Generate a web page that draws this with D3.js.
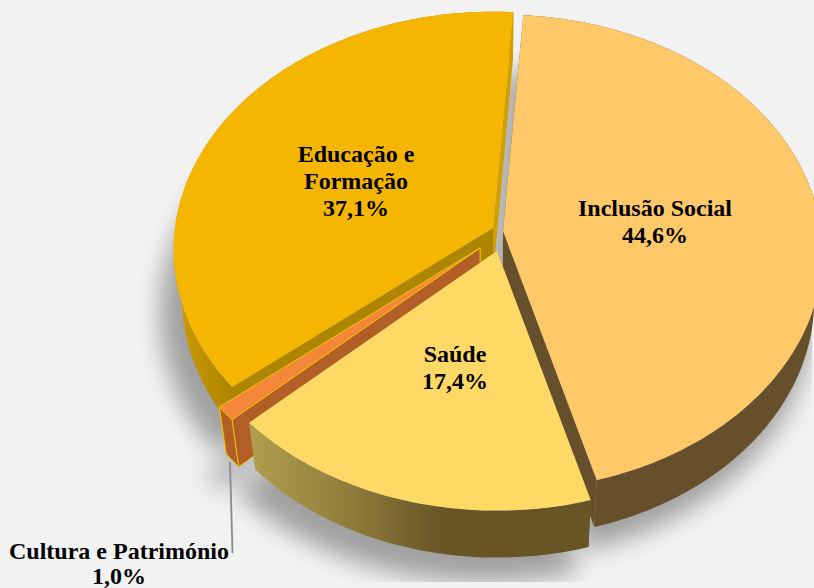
<!DOCTYPE html>
<html>
<head>
<meta charset="utf-8">
<script src="https://cdnjs.cloudflare.com/ajax/libs/d3/7.8.5/d3.min.js"></script>
<style>
  html, body { margin: 0; padding: 0; background: #f2f2f2; overflow: hidden; }
  text { font-family: "Liberation Serif", serif; font-weight: bold; fill: #000; }
</style>
</head>
<body>
<svg id="chart" width="814" height="588"></svg>
<script>
// chart data
const categories = ["Inclusão Social", "Saúde", "Cultura e Património", "Educação e Formação"];
const shares = [44.6, 17.4, 1.0, 37.1];
const labelLines = [
    ["Inclusão Social"],
    ["Saúde"],
    ["Cultura e Património"],
    ["Educação e", "Formação"]
];

const width = 814, height = 588;
const firstAngle = 4 * Math.PI / 180;

// fake 3d: ground plane seen in perspective
const radius = 318, tilt = 0.742, persp = 0.091;
const depth = 47, vanishX = 500, bottomScale = 0.975;

// apex of every slice (they are exploded by hand in the original)
const apex = {
    "Inclusão Social": [503, 231],
    "Saúde": [497, 251],
    "Cultura e Património": [480, 248],
    "Educação e Formação": [493, 228]
};
const labelAnchor = {
    "Inclusão Social": { x: 655, y: 216, step: 27 },
    "Saúde": { x: 455, y: 362, step: 27 },
    "Cultura e Património": { x: 119, y: 559, step: 25 },
    "Educação e Formação": { x: 356, y: 162, step: 27 }
};
const faces = {
    "Inclusão Social": { top: "#ffc969", outer: "#66502b", start: "#66502b", end: "#66502b" },
    "Saúde": { top: "#ffd966", outer: "url(#saudeWall)", start: "#665526", end: "#a8964a" },
    "Cultura e Património": { top: "#f5873b", outer: "#b15f26", start: "#b15f26", end: "#b15f26", edge: "#ecc000" },
    "Educação e Formação": { top: "#f4b600", outer: "url(#eduWall)", start: "#ae8500", end: "#d1a000", wallOrder: ["outer", "start", "end"] }
};
const defaultWallOrder = ["end", "outer", "start"];
const drawOrder = ["Educação e Formação", "Inclusão Social", "Cultura e Património", "Saúde"];

const svg = d3.select("#chart");
const defs = svg.append("defs");

defs.append("clipPath").attr("id", "shadowClip")
    .append("rect").attr("width", width).attr("height", 582);

defs.append("filter")
    .attr("id", "blur")
    .attr("filterUnits", "userSpaceOnUse")
    .attr("x", 0).attr("y", 0).attr("width", width).attr("height", height)
    .append("feGaussianBlur").attr("stdDeviation", 12);

function hgrad(id, x1, x2, stops) {
    const g = defs.append("linearGradient")
        .attr("id", id)
        .attr("gradientUnits", "userSpaceOnUse")
        .attr("x1", x1).attr("x2", x2).attr("y1", 0).attr("y2", 0);
    stops.forEach(s => g.append("stop").attr("offset", s[0]).attr("stop-color", s[1]));
}
hgrad("saudeWall", 250, 450, [[0, "#b09e4e"], [0.5, "#8f7d3b"], [0.92, "#6a5829"], [1, "#675526"]]);
hgrad("eduWall", 180, 235, [[0, "#cc9a00"], [1, "#ab8200"]]);

// top surface point for a slice apex and a pie angle
function topPoint(a, angle) {
    const u = Math.sin(angle), v = -Math.cos(angle);
    const w = 1 / (1 - persp * v);
    return [a[0] + radius * u * w, a[1] + radius * tilt * v * w];
}

// same point on the lower face of the solid
function lowPoint(p) {
    return [vanishX + (p[0] - vanishX) * bottomScale, p[1] + depth];
}

function arcPoints(a, a0, a1) {
    const n = Math.ceil(Math.abs(a1 - a0) * 60) + 1;
    return d3.range(n + 1).map(i => topPoint(a, a0 + (a1 - a0) * i / n));
}

const line = d3.line().curve(d3.curveLinear);
const closed = pts => line(pts) + "Z";

const pie = d3.pie()
    .sort(null)
    .value((d, i) => shares[i])
    .startAngle(firstAngle)
    .endAngle(firstAngle + 2 * Math.PI);

const slices = pie(categories);
const byName = {};
slices.forEach(s => {
    const a = apex[s.data];
    const arc = arcPoints(a, s.startAngle, s.endAngle);
    byName[s.data] = { d: s, apex: a, arc: arc, low: arc.map(lowPoint), lowApex: lowPoint(a) };
});

// soft shadow below the whole pie, a bit bigger than the pie itself
svg.append("g")
    .attr("clip-path", "url(#shadowClip)")
    .append("g")
    .attr("filter", "url(#blur)")
    .attr("transform", "translate(-12,16) translate(500,280) scale(1.03) translate(-500,-280)")
    .selectAll("path")
    .data(slices)
    .join("path")
    .attr("fill", "#a0a0a0")
    .attr("d", s => {
        const b = byName[s.data];
        return closed([b.lowApex].concat(b.low));
    });

// leader line for the tiny slice
svg.append("path")
    .attr("fill", "none")
    .attr("stroke", "#8a8a8a")
    .attr("stroke-width", 1.8)
    .attr("d", line([[230, 462], [232.5, 553]]));

drawOrder.forEach(name => {
    const b = byName[name];
    const f = faces[name];
    const g = svg.append("g");
    const edge = sel => {
        if (f.edge) sel.attr("stroke", f.edge).attr("stroke-width", 1).attr("stroke-linejoin", "round");
        else sel.attr("stroke", "none");
        return sel;
    };
    const first = b.arc[0], last = b.arc[b.arc.length - 1];
    const wallPath = {
        end: closed([b.apex, last, lowPoint(last), b.lowApex]),
        start: closed([b.apex, first, lowPoint(first), b.lowApex]),
        outer: closed(b.arc.concat(b.low.slice().reverse()))
    };

    (f.wallOrder || defaultWallOrder).forEach(w => {
        g.append("path").attr("fill", f[w]).call(edge).attr("d", wallPath[w]);
    });
    g.append("path").attr("fill", f.top).call(edge)
        .attr("d", closed([b.apex].concat(b.arc)));
});

const pct = d3.format(".1f");
categories.forEach((c, i) => {
    const at = labelAnchor[c];
    const lines = labelLines[i].concat([pct(shares[i]).replace(".", ",") + "%"]);
    svg.append("g")
        .selectAll("text")
        .data(lines)
        .join("text")
        .attr("text-anchor", "middle")
        .attr("font-size", 24)
        .attr("x", at.x)
        .attr("y", (d, j) => at.y + j * at.step)
        .text(d => d);
});
</script>
</body>
</html>
